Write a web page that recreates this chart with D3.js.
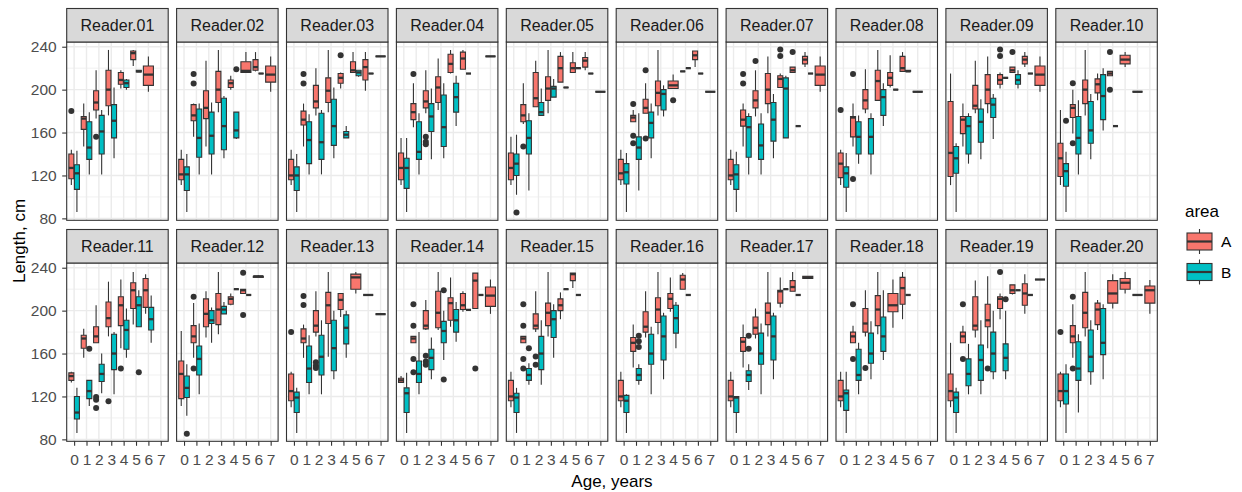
<!DOCTYPE html>
<html><head><meta charset="utf-8">
<script src="https://cdn.jsdelivr.net/npm/d3@7"></script>
<style>body{margin:0;background:#fff}svg{display:block;font-family:"Liberation Sans",Arial,sans-serif}</style>
</head><body><svg id="chart" width="1242" height="492"></svg>
<script>
const readers = ["Reader.01","Reader.02","Reader.03","Reader.04","Reader.05","Reader.06","Reader.07","Reader.08","Reader.09","Reader.10",
  "Reader.11","Reader.12","Reader.13","Reader.14","Reader.15","Reader.16","Reader.17","Reader.18","Reader.19","Reader.20"];
const ages = [0,1,2,3,4,5,6,7];
const areas = ["A","B"];
const areaColors = ["#F8766D","#00BFC4"];
const yTicks = [80,120,160,200,240];
const yMinor = [100,140,180,220];
// [reader, age, area, lower whisker, q1, median, q3, upper whisker, outliers]
const boxStats = [
[1,0,'A',111,117,127,140,144,[180]],[1,0,'B',86,107,122,130,143,[]],
[1,1,'A',147,163,173,175,187,[]],[1,1,'B',121,135,146,170,179,[]],
[1,2,'A',173,181,188,199,218,[156]],[1,2,'B',121,140,161,176,181,[]],
[1,3,'A',176,185,200,218,237,[]],[1,3,'B',136,155,171,186,202,[]],
[1,4,'A',201,205,209,216,218,[]],[1,4,'B',200,202,206,209,210,[]],
[1,5,'A',222,228,234,236,237,[]],[1,5,'B',216.5,216.5,217,218,218,[]],
[1,6,'A',198,204,214,222,231,[]],
[2,0,'A',111,116,121,135,144,[]],[2,0,'B',86,106,121,128,140,[]],
[2,1,'A',156,171,176,186,187,[214.5,205.8]],[2,1,'B',121,137,155,182,187,[]],
[2,2,'A',147,173,183,199,227,[]],[2,2,'B',121,140,157,179,188,[]],
[2,3,'A',179,188,200,217,237,[]],[2,3,'B',136,144,166,192,194,[]],
[2,4,'A',200,202,206,209,213,[]],[2,4,'B',154,155,162,179,179,[219]],
[2,5,'A',216,216,217.5,226,235,[]],
[2,6,'A',217,218,221,228,235,[]],[2,6,'B',215,215,215,215,215,[]],
[2,7,'A',198,207,214,222,231,[]],
[3,0,'A',111,116,120,135,144,[]],[3,0,'B',86,106,120,128,140,[]],
[3,1,'A',147,167,172,180,187,[214.5,205.8]],[3,1,'B',121,131,153,170,177,[]],
[3,2,'A',176,183,189,204,220,[]],[3,2,'B',121,135,151,178,181,[]],
[3,3,'A',179,188,199,211,237,[]],[3,3,'B',136,148,166,191,202,[]],
[3,4,'A',201,206,211,215,216,[232]],[3,4,'B',155,155,158,161,166,[]],
[3,5,'A',216,216,218,226,235,[]],[3,5,'B',212,213,216,218,218,[]],
[3,6,'A',199,209,221,228,235,[]],[3,6,'B',215,215,215,215,215,[]],
[3,7,'A',231,231,231,231,231,[]],
[4,0,'A',111,116,127,141,155,[]],[4,0,'B',86,108,127,136,155,[]],
[4,1,'A',165,172,179,187,206,[214.5]],[4,1,'B',121,135,142,170,178,[]],
[4,2,'A',178,183,189,199,218,[156,151.5,149]],[4,2,'B',135,161,175,187,201,[]],
[4,3,'A',181,188,202,212,229,[]],[4,3,'B',136,147,165,195,206,[]],
[4,4,'A',215,216,224,233,237,[]],[4,4,'B',166,179,193,206,213,[]],
[4,5,'A',219,219,229,235,237,[]],[4,5,'B',215,215,215,215,215,[]],
[4,7,'A',231,231,231,231,231,[]],
[5,0,'A',111,116,127,141,156,[]],[5,0,'B',102,120,131,140,158,[85.5]],
[5,1,'A',168,170,176,186,206,[147]],[5,1,'B',106,140,155,171,178,[]],
[5,2,'A',184,184,192,216,227,[]],[5,2,'B',176,176,179,188,201,[]],
[5,3,'A',178,190,201,212,237,[]],[5,3,'B',193,193,201,203,210,[]],
[5,4,'A',207,207,220,231,235,[]],[5,4,'B',202,202,202,202,202,[]],
[5,5,'A',216,216,220,225,235,[]],[5,5,'B',220,220,220,220,220,[]],
[5,6,'A',218,221,227,230,235,[]],[5,6,'B',215,215,215,215,215,[]],
[5,7,'A',198,198,198,198,198,[]],
[6,0,'A',111,116,122,135,144,[]],[6,0,'B',86,112,123,131,141,[]],
[6,1,'A',170,170,174,176,181,[186.5,157,150]],[6,1,'B',106,135,146,156,178,[]],
[6,2,'A',178,178,183,191,206,[218,154.5]],[6,2,'B',136,155,169,179,187,[]],
[6,3,'A',176,185,197,208,237,[]],[6,3,'B',175,181,196,200,204,[]],
[6,4,'A',201,201,204,208,214,[190]],
[6,5,'A',217,217,217,217,217,[]],[6,5,'B',220,220,220,220,220,[]],
[6,6,'A',221,228,232,236,236,[]],[6,6,'B',215,215,215,215,215,[]],
[6,7,'A',198,198,198,198,198,[]],
[7,0,'A',111,116,120,135,144,[]],[7,0,'B',86,107,121,130,142,[]],
[7,1,'A',147,166,172,181,187,[214.5,205.8]],[7,1,'B',121,137,165,175,178,[]],
[7,2,'A',175,183,190,199,218,[226.6]],[7,2,'B',121,135,148,168,178,[]],
[7,3,'A',178,187,200,215,231,[]],[7,3,'B',136,152,172,188,196,[]],
[7,4,'A',202,202,210,213,215,[237.5,231.3]],[7,4,'B',155,155,201,211,213,[]],
[7,5,'A',216,216,218,221,221,[235]],[7,5,'B',166,166,166,166,166,[]],
[7,6,'A',221,224,228,231,235,[]],[7,6,'B',215,215,215,215,215,[]],
[7,7,'A',198,204,214,222,231,[]],
[8,0,'A',111,118,131,141,144,[181]],[8,0,'B',86,109,122,128,141,[]],
[8,1,'A',147,156,174,175,187,[214.5,116.6]],[8,1,'B',131,140,156,170,176,[]],
[8,2,'A',178,182,190,200,219,[]],[8,2,'B',121,140,156,173,178,[]],
[8,3,'A',190,190,208,218,237,[]],[8,3,'B',166,176,193,200,206,[]],
[8,4,'A',202,204,211,216,232,[]],[8,4,'B',200,200,200,200,200,[]],
[8,5,'A',217,217,220,231,235,[]],[8,5,'B',217,217,217,218,218,[]],
[8,6,'A',198,198,198,198,198,[]],
[9,0,'A',111,119,141,189,215,[]],[9,0,'B',86,122,136,147,150,[]],
[9,1,'A',147,159,172,175,187,[]],[9,1,'B',131,140,166,175,178,[]],
[9,2,'A',178,182,185,204,227,[]],[9,2,'B',135,151,170,182,191,[]],
[9,3,'A',178,187,200,214,231,[]],[9,3,'B',154,174,186,192,196,[]],
[9,4,'A',201,205,209,214,216,[237.5,231.3]],[9,4,'B',211,211,211,211,211,[]],
[9,5,'A',216,216,218,221,221,[235]],[9,5,'B',201,205,209,214,218,[]],
[9,6,'A',221,224,228,231,235,[]],[9,6,'B',215,215,215,215,215,[]],
[9,7,'A',198,204,214,222,231,[]],
[10,0,'A',111,119,136,150,181,[]],[10,0,'B',86,110,124,131,142,[171]],
[10,1,'A',159,174,183,186,200,[206,150]],[10,1,'B',121,140,155,175,190,[]],
[10,2,'A',176,187,200,209,237,[]],[10,2,'B',135,150,162,189,196,[]],
[10,3,'A',190,197,205,210,215,[]],[10,3,'B',162,172,194,214,220,[]],
[10,4,'A',213,213,215,217,217,[235,200]],[10,4,'B',166,166,166,166,166,[]],
[10,5,'A',221,224,228,232,235,[]],
[10,6,'A',198,198,198,198,198,[]],
[11,0,'A',133,135,139,142,143,[]],[11,0,'B',86,99,105,120,128,[]],
[11,1,'A',156,165,174,177,183,[]],[11,1,'B',111,118,125,135,135,[164.5]],
[11,2,'A',170,170,176,185,205,[119.6,117,109.3]],[11,2,'B',123,134,141,150,160,[]],
[11,3,'A',176,185,193,208,227,[115.6]],[11,3,'B',122,145,160,178,180,[]],
[11,4,'A',165,186,205,213,229,[146]],[11,4,'B',156,164,182,191,202,[]],
[11,5,'A',187,202,219,226,236,[]],[11,5,'B',185,185,205,213,219,[142.5]],
[11,6,'A',197,203,219,230,234,[]],[11,6,'B',170,182,192,203,214,[]],
[12,0,'A',111,118,141,153,181,[]],[12,0,'B',102,119,128,139,150,[85.2]],
[12,1,'A',156,170,176,186,207,[213,146]],[12,1,'B',122,140,155,167,188,[]],
[12,2,'A',175,185,197,211,218,[]],[12,2,'B',170,188,191,200,203,[]],
[12,3,'A',178,187,201,216,236,[]],[12,3,'B',197,197,201,204,208,[]],
[12,4,'A',205,206,211,213,216,[]],[12,4,'B',220,220,220,220,220,[]],
[12,5,'A',216,216,219,220,220,[235.4,196]],[12,5,'B',214.6,214.6,214.6,214.6,214.6,[]],
[12,6,'A',231,231,232,232,233,[]],
[13,0,'A',110,116,125,141,143,[180]],[13,0,'B',86,105,119,124,128,[]],
[13,1,'A',156,170,174,183,187,[213.7,205.3]],[13,1,'B',122,133,146,167,177,[]],
[13,2,'A',176,180,186,200,218,[151.8,148.7,146.5]],[13,2,'B',122,140,157,177,191,[]],
[13,3,'A',157,188,205,217,236,[]],[13,3,'B',136,144,165,191,200,[]],
[13,4,'A',194,201,210,216,216,[]],[13,4,'B',156,169,184,196,200,[]],
[13,5,'A',216,220,231,234,236,[]],
[13,6,'A',214.6,214.6,214.6,214.6,214.6,[]],
[13,7,'A',196.7,196.7,196.7,196.7,196.7,[]],
[14,0,'A',133,133,135,137,139,[]],[14,0,'B',86,105,123,128,142,[]],
[14,1,'A',170,170,174,176,176,[206,186,155,142.5]],[14,1,'B',122,133,141,153,180,[]],
[14,2,'A',182,183,186,200,210,[158,152.7,149.6]],[14,2,'B',136,145,156,164,175,[]],
[14,3,'A',182,184,198,218,236,[]],[14,3,'B',154,170,181,190,200,[219,135.7]],
[14,4,'A',185,191,207,212,231,[]],[14,4,'B',171,180,191,201,208,[]],
[14,5,'A',199,201,205,216,218,[]],[14,5,'B',200.7,200.7,200.7,200.7,200.7,[]],
[14,6,'A',202,202,228,235,235,[146]],[14,6,'B',214.6,214.6,214.6,214.6,214.6,[]],
[14,7,'A',197,204,214,222,229,[]],
[15,0,'A',110,116,120,135,143,[]],[15,0,'B',86,105,119,123,128,[]],
[15,1,'A',170,170,174,176,176,[206,186,155,146]],[15,1,'B',131,135,140,146,151,[165]],
[15,2,'A',180,183,186,197,218,[157.3,149.6]],[15,2,'B',131,145,160,176,191,[]],
[15,3,'A',176,186,198,207,236,[]],[15,3,'B',156,175,192,200,206,[]],
[15,4,'A',192,200,205,211,217,[]],[15,4,'B',220,220,220,220,220,[]],
[15,5,'A',221,228,234,235,235,[]],[15,5,'B',214.6,214.6,214.6,214.6,214.6,[]],
[16,0,'A',110,116,120,135,143,[]],[16,0,'B',86,105,116,121,122,[]],
[16,1,'A',147,162,170,175,187,[]],[16,1,'B',131,135,140,146,150,[176.5,171.5,166]],
[16,2,'A',175,180,185,199,218,[]],[16,2,'B',122,150,160,178,185,[]],
[16,3,'A',178,189,201,212,236,[]],[16,3,'B',136,154,176,195,198,[]],
[16,4,'A',199,202,211,216,231,[]],[16,4,'B',165,179,193,205,208,[]],
[16,5,'A',220,220,229,233,235,[]],[16,5,'B',214.6,214.6,214.6,214.6,214.6,[]],
[17,0,'A',110,116,120,135,143,[]],[17,0,'B',86,105,119,120,120,[]],
[17,1,'A',147,162,171,175,187,[]],[17,1,'B',126,134,140,144,150,[176.5,164.5]],
[17,2,'A',174,178,184,194,202,[]],[17,2,'B',122,150,160,179,188,[]],
[17,3,'A',176,187,198,207,236,[]],[17,3,'B',136,154,176,195,198,[]],
[17,4,'A',203,207,218,219,231,[]],[17,4,'B',220,220,220,220,220,[]],
[17,5,'A',218,218,222,228,236,[]],[17,5,'B',214.6,214.6,214.6,214.6,214.6,[]],
[17,6,'A',230,230,231,232,232,[]],
[18,0,'A',110,116,120,135,143,[]],[18,0,'B',86,107,123,126,143,[]],
[18,1,'A',170,170,176,180,186,[206,155]],[18,1,'B',122,135,140,164,170,[]],
[18,2,'A',176,180,188,202,219,[146.5]],[18,2,'B',136,151,160,179,190,[]],
[18,3,'A',178,186,201,214,236,[]],[18,3,'B',154,162,176,194,219,[]],
[18,4,'A',184,199,205,216,229,[]],
[18,5,'A',192,206,221,231,236,[]],[18,5,'B',214.6,214.6,214.6,214.6,214.6,[]],
[19,0,'A',110,116,125,141,170,[]],[19,0,'B',86,105,119,124,128,[]],
[19,1,'A',170,170,176,180,186,[206,155]],[19,1,'B',122,130,141,155,169,[]],
[19,2,'A',175,182,186,213,228,[]],[19,2,'B',122,135,154,168,191,[]],
[19,3,'A',165,185,191,206,232,[146]],[19,3,'B',136,143,160,180,200,[]],
[19,4,'A',192,202,211,213,216,[236]],[19,4,'B',136,144,156,169,200,[210.6]],
[19,5,'A',215,216,219,224,224,[]],[19,5,'B',219,219,219,219,219,[]],
[19,6,'A',197,205,216,225,234,[]],[19,6,'B',214.6,214.6,214.6,214.6,214.6,[]],
[19,7,'A',229,229,229,229,229,[]],
[20,0,'A',110,116,125,141,143,[180]],[20,0,'B',86,113,125,141,150,[]],
[20,1,'A',156,170,176,186,206,[213,146]],[20,1,'B',105,135,146,171,178,[]],
[20,2,'A',176,184,198,217,236,[]],[20,2,'B',131,143,157,182,191,[]],
[20,3,'A',182,187,201,207,210,[]],[20,3,'B',136,159,170,202,206,[]],
[20,4,'A',202,207,216,228,234,[]],
[20,5,'A',216,220,226,230,236,[]],
[20,6,'A',214.6,214.6,214.6,214.6,214.6,[]],
[20,7,'A',197,207,219,223,228.5,[]]
];
const xTitle = "Age, years", yTitle = "Length, cm", legendTitle = "area";

// ---------- layout ----------
const svg = d3.select("#chart");
const L0 = 66.7, PW = 101.5, STRIDE = 109.9, STRIP_H = 33.5, PH = 178.3;
const rowTop = [8.5, 229.5];
const INK = "#333333", GRID = "#EBEBEB";
const color = d3.scaleOrdinal().domain(areas).range(areaColors);

const boxes = boxStats.map(d => ({reader:d[0], age:d[1], area:d[2], lo:d[3], q1:d[4], med:d[5], q3:d[6], hi:d[7], out:d[8]}));
const counts = d3.rollup(boxes, v => v.length, d => d.reader, d => d.age);

readers.forEach((name, i) => {
  const col = i % 10, row = Math.floor(i / 10);
  const L = L0 + col * STRIDE, ST = rowTop[row], T = ST + STRIP_H;
  const x = d3.scaleLinear().domain([-0.6, 7.6]).range([L, L + PW]);
  const y = d3.scaleLinear().domain([78.2, 244.4]).range([T + PH, T]);
  const g = svg.append("g");

  g.append("rect").attr("x", L).attr("y", T).attr("width", PW).attr("height", PH).attr("fill", "#fff");
  // minor grid
  g.selectAll(".mn").data(yMinor).join("line")
    .attr("x1", L).attr("x2", L + PW).attr("y1", d => y(d)).attr("y2", d => y(d))
    .attr("stroke", GRID).attr("stroke-width", 0.7);
  // major grid
  g.selectAll(".mjy").data(yTicks).join("line")
    .attr("x1", L).attr("x2", L + PW).attr("y1", d => y(d)).attr("y2", d => y(d))
    .attr("stroke", GRID).attr("stroke-width", 1.4);
  g.selectAll(".mjx").data(ages).join("line")
    .attr("y1", T).attr("y2", T + PH).attr("x1", d => x(d)).attr("x2", d => x(d))
    .attr("stroke", GRID).attr("stroke-width", 1.4);

  const mine = boxes.filter(b => b.reader === i + 1).map(b => {
    const n = counts.get(b.reader).get(b.age);
    const c = n === 2 ? b.age + (b.area === "A" ? -0.225 : 0.225) : b.age;
    const hw = n === 2 ? 0.2025 : 0.405;
    return Object.assign({}, b, {c, hw});
  });

  const bg = g.selectAll(".box").data(mine).join("g");
  bg.append("line").attr("x1", d => x(d.c)).attr("x2", d => x(d.c))
    .attr("y1", d => y(d.hi)).attr("y2", d => y(d.q3)).attr("stroke", INK).attr("stroke-width", 1.1);
  bg.append("line").attr("x1", d => x(d.c)).attr("x2", d => x(d.c))
    .attr("y1", d => y(d.q1)).attr("y2", d => y(d.lo)).attr("stroke", INK).attr("stroke-width", 1.1);
  bg.append("path")
    .attr("d", d => `M${x(d.c - d.hw)},${y(d.q3)}H${x(d.c + d.hw)}V${y(d.q1)}H${x(d.c - d.hw)}Z`)
    .attr("fill", d => color(d.area)).attr("stroke", INK).attr("stroke-width", 1.1);
  bg.append("line").attr("x1", d => x(d.c - d.hw)).attr("x2", d => x(d.c + d.hw))
    .attr("y1", d => y(d.med)).attr("y2", d => y(d.med)).attr("stroke", INK).attr("stroke-width", 2.3);
  bg.selectAll("circle").data(d => d.out.map(v => ({c: d.c, v}))).join("circle")
    .attr("cx", d => x(d.c)).attr("cy", d => y(d.v)).attr("r", 3).attr("fill", INK);

  // panel border
  g.append("rect").attr("x", L).attr("y", T).attr("width", PW).attr("height", PH)
    .attr("fill", "none").attr("stroke", INK).attr("stroke-width", 1.1);
  // strip
  g.append("rect").attr("x", L).attr("y", ST).attr("width", PW).attr("height", STRIP_H)
    .attr("fill", "#D9D9D9").attr("stroke", INK).attr("stroke-width", 1.1);
  g.append("text").attr("x", L + PW / 2).attr("y", ST + STRIP_H / 2 + 5.8)
    .attr("text-anchor", "middle").attr("font-size", 16).attr("fill", "#1A1A1A").text(name);

  if (col === 0) {
    const ax = g.append("g").attr("transform", `translate(${L},0)`)
      .call(d3.axisLeft(y).tickValues(yTicks).tickSize(4.5).tickPadding(5.5));
    ax.select(".domain").remove();
    ax.selectAll(".tick line").attr("stroke", INK).attr("stroke-width", 1.1);
    ax.selectAll(".tick text").attr("fill", "#4D4D4D").attr("font-size", 15.5)
      .attr("font-family", '"Liberation Sans",Arial,sans-serif');
  }
  if (row === 1) {
    const ax = g.append("g").attr("transform", `translate(0,${T + PH})`)
      .call(d3.axisBottom(x).tickValues(ages).tickSize(4.5).tickPadding(8.5));
    ax.select(".domain").remove();
    ax.selectAll(".tick line").attr("stroke", INK).attr("stroke-width", 1.1);
    ax.selectAll(".tick text").attr("fill", "#4D4D4D").attr("font-size", 15.5)
      .attr("font-family", '"Liberation Sans",Arial,sans-serif');
  }
});

// axis titles
svg.append("text").attr("x", 612).attr("y", 486.5).attr("text-anchor", "middle")
  .attr("font-size", 17).attr("fill", "#000").text(xTitle);
svg.append("text").attr("transform", "translate(24.5,241) rotate(-90)").attr("text-anchor", "middle")
  .attr("font-size", 17).attr("fill", "#000").text(yTitle);

// legend
const lg = svg.append("g");
lg.append("text").attr("x", 1185).attr("y", 216.5).attr("font-size", 17).attr("fill", "#000").text(legendTitle);
areas.forEach((a, k) => {
  const top = 229 + k * 30.5;
  const kx0 = 1187, kx1 = 1212, cx = (kx0 + kx1) / 2;
  lg.append("line").attr("x1", cx).attr("x2", cx).attr("y1", top).attr("y2", top + 25)
    .attr("stroke", INK).attr("stroke-width", 1.1);
  lg.append("rect").attr("x", kx0).attr("y", top + 4).attr("width", kx1 - kx0).attr("height", 17)
    .attr("fill", color(a)).attr("stroke", INK).attr("stroke-width", 1.1);
  lg.append("line").attr("x1", kx0).attr("x2", kx1).attr("y1", top + 12.5).attr("y2", top + 12.5)
    .attr("stroke", INK).attr("stroke-width", 2.2);
  lg.append("text").attr("x", 1221).attr("y", top + 12.5).attr("dy", "0.36em")
    .attr("font-size", 15.5).attr("fill", "#000").text(a);
});
</script></body></html>
